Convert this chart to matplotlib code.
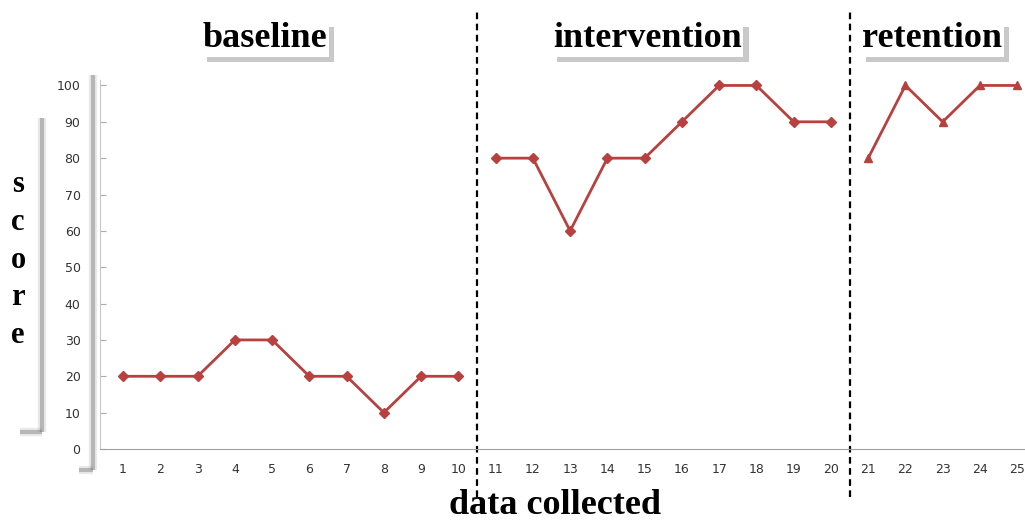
"""Single-subject design chart: baseline / intervention / retention scores."""

import matplotlib
matplotlib.use("Agg")
import matplotlib.pyplot as plt
import matplotlib.patheffects as pe
from matplotlib.lines import Line2D

BASELINE_X = [1, 2, 3, 4, 5, 6, 7, 8, 9, 10]
BASELINE_Y = [20, 20, 20, 30, 30, 20, 20, 10, 20, 20]
INTERVENTION_X = [11, 12, 13, 14, 15, 16, 17, 18, 19, 20]
INTERVENTION_Y = [80, 80, 60, 80, 80, 90, 100, 100, 90, 90]
RETENTION_X = [21, 22, 23, 24, 25]
RETENTION_Y = [80, 100, 90, 100, 100]
PHASE_BREAKS = [10.5, 20.5]
PHASE_LABELS = ["baseline", "intervention", "retention"]
PHASE_LABEL_X = [4.81, 15.07, 22.72]
Y_TICKS = list(range(0, 101, 10))

RED = "#B8413F"
SERIF = ["Liberation Serif", "DejaVu Serif"]

fig = plt.figure(figsize=(10.25, 5.22), dpi=100)
ax = fig.add_axes([100 / 1025, 73 / 522, 925 / 1025, 369 / 522])

for xs, ys, mk, ms in [
    (BASELINE_X, BASELINE_Y, "D", 5),
    (INTERVENTION_X, INTERVENTION_Y, "D", 5),
    (RETENTION_X, RETENTION_Y, "^", 6),
]:
    ax.plot(xs, ys, color=RED, marker=mk, markersize=ms, linewidth=2)

ax.set_xlim(0.38, 25.21)
ax.set_ylim(0, 101.5)
ax.set_yticks(Y_TICKS)
ax.set_xticks(BASELINE_X + INTERVENTION_X + RETENTION_X)
ax.tick_params(axis="y", direction="in", length=4, color="#AAAAAA",
               labelsize=9, labelcolor="#333333", pad=14)
ax.tick_params(axis="x", length=0, labelsize=9, labelcolor="#333333", pad=10)
for side in ["top", "right"]:
    ax.spines[side].set_visible(False)
ax.spines["left"].set_color("#C8C8C8")
ax.spines["bottom"].set_color("#A0A0A0")

# phase separators run from the top of the figure to below the axis
for xb in PHASE_BREAKS:
    ax.axvline(xb, ymin=-0.13, ymax=1.185, color="black", linestyle=(0, (3, 2)),
               linewidth=1.6, clip_on=False)

shadow = [pe.SimplePatchShadow(offset=(4, -4), shadow_rgbFace="#888888", alpha=0.45),
          pe.Normal()]
for label, xc in zip(PHASE_LABELS, PHASE_LABEL_X):
    t = ax.text(xc, 112.8, label, ha="center", va="center", fontsize=26,
                fontweight="bold", family=SERIF,
                bbox=dict(facecolor="white", edgecolor="none", pad=1))
    t.get_bbox_patch().set_path_effects(shadow)

fig.text(555 / 1025, 1 - 506 / 522, "data collected", ha="center", va="center",
         fontsize=26, fontweight="bold", family=SERIF)
fig.text(18 / 1025, 1 - 260 / 522, "s\nc\no\nr\ne", ha="center", va="center",
         fontsize=22, fontweight="bold", family=SERIF, linespacing=1.4)

# grey bracket shadows like the original Excel styling
def bracket(x, y0, y1, foot, lw):
    for w, a in [(lw + 3, 0.15), (lw, 0.45)]:
        fig.add_artist(Line2D([x / 1025, x / 1025], [1 - y0 / 522, 1 - y1 / 522],
                              color="#777777", linewidth=w, alpha=a,
                              solid_capstyle="butt"))
        fig.add_artist(Line2D([(x - foot) / 1025, x / 1025], [1 - y1 / 522, 1 - y1 / 522],
                              color="#777777", linewidth=w, alpha=a,
                              solid_capstyle="butt"))

bracket(93, 75, 470, 14, 3)
bracket(42, 118, 432, 22, 3)

fig.savefig("out.png", dpi=100, facecolor="white")
